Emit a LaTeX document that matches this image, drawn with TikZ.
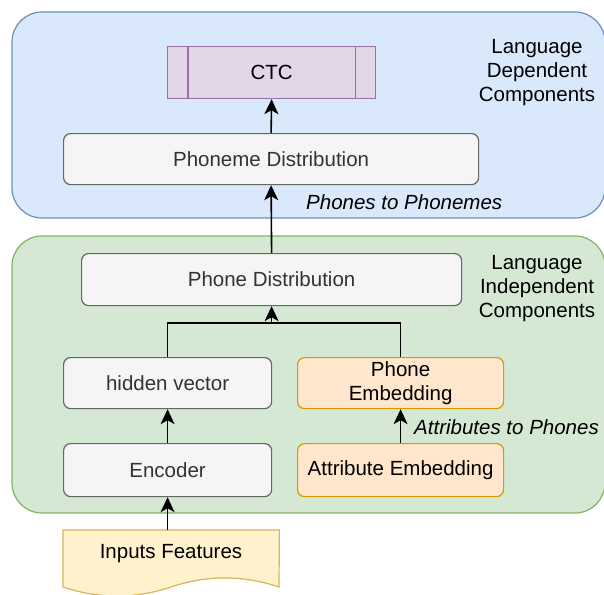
\documentclass[tikz,border=0pt]{standalone}
\usepackage{fontspec}
\setmainfont{Liberation Sans}
\usetikzlibrary{arrows.meta}

\definecolor{depFill}{HTML}{DAE8FC}
\definecolor{depLine}{HTML}{6C8EBF}
\definecolor{indFill}{HTML}{D5E8D4}
\definecolor{indLine}{HTML}{82B366}
\definecolor{grayFill}{HTML}{F5F5F5}
\definecolor{grayLine}{HTML}{666666}
\definecolor{grayText}{HTML}{333333}
\definecolor{orgFill}{HTML}{FFE6CC}
\definecolor{orgLine}{HTML}{D79B00}
\definecolor{purFill}{HTML}{E1D5E7}
\definecolor{purLine}{HTML}{9673A6}
\definecolor{yelFill}{HTML}{FFF2CC}
\definecolor{yelLine}{HTML}{D6B656}

\begin{document}
\begin{tikzpicture}[x=1pt,y=-1pt,
  font=\fontsize{20.5}{24}\selectfont,
  group/.style={line width=1.2pt, rounded corners=30pt},
  block/.style={draw, rounded corners=7pt, line width=1.2pt, inner sep=0pt,
    anchor=north west, align=center},
  graybox/.style={block, draw=grayLine, fill=grayFill, text=grayText},
  orgbox/.style={block, draw=orgLine, fill=orgFill},
  arr/.style={-{Stealth[length=15pt,width=14pt,inset=4pt]}, line width=1.6pt},
  lbl/.style={font=\fontsize{20.5}{24}\selectfont\itshape, anchor=west, inner sep=0pt},
  grouptitle/.style={align=center, inner sep=0pt}
]
\useasboundingbox (0,0) rectangle (604,594);

% language dependent group
\draw[group, draw=depLine, fill=depFill] (12,12) rectangle (605,218);
\node[grouptitle] (depTitle) at (537,73) {Language\\Dependent\\Components};

% language independent group
\draw[group, draw=indLine, fill=indFill] (12,236) rectangle (605,513);
\node[grouptitle] (indTitle) at (537,289) {Language\\Independent\\Components};

% CTC process block
\node[block, rounded corners=0pt, draw=purLine, fill=purFill,
      minimum width=208pt, minimum height=52pt] (ctc) at (167,46) {CTC};
\draw[purLine, line width=1.2pt] ([xshift=21pt]ctc.north west) -- ([xshift=21pt]ctc.south west);
\draw[purLine, line width=1.2pt] ([xshift=-21pt]ctc.north east) -- ([xshift=-21pt]ctc.south east);

\node[graybox, minimum width=415pt, minimum height=51pt] (pmd) at (63,133) {Phoneme Distribution};
\node[graybox, minimum width=380pt, minimum height=52pt] (phd) at (81,253) {Phone Distribution};
\node[graybox, minimum width=208pt, minimum height=51pt] (hid) at (63,357) {hidden vector};
\node[orgbox, minimum width=206pt, minimum height=51pt] (pemb) at (297,357) {Phone\\Embedding};
\node[graybox, minimum width=208pt, minimum height=53pt] (enc) at (63,443) {Encoder};
\node[orgbox, minimum width=206pt, minimum height=53pt] (aemb) at (297,443) {Attribute Embedding};

% input document shape
\node[draw=none, inner sep=0pt, anchor=north west,
      minimum width=216pt, minimum height=67pt] (inp) at (63,530) {};
\draw[yelLine, fill=yelFill, line width=1.2pt]
  (inp.north west) -- (inp.north east) -- (279,587)
  .. controls (243,574.9) and (207,574.9) .. (171,587)
  .. controls (135,599) and (99,599) .. (63,587) -- cycle;
\node[inner sep=0pt] (inpText) at (171,554) {Inputs Features};

% connectors
\coordinate (join) at (phd.south |- 0,323);
\draw[arr] (pmd.north) -- (ctc.south);
\draw[arr] (phd.north) -- (pmd.south);
\draw[line width=1.6pt] (hid.north) |- (join);
\draw[line width=1.6pt] (pemb.north) |- (join);
\draw[arr] (join) -- (phd.south);
\draw[arr] (enc.north) -- (hid.south);
\draw[arr] (aemb.north) -- (pemb.south);
\draw[arr] (enc.south |- inp.north) -- (enc.south);

% connector labels
\node[lbl] (p2p) at (306,202) {Phones to Phonemes};
\node[lbl] (a2p) at (414,427) {Attributes to Phones};
\end{tikzpicture}
\end{document}
